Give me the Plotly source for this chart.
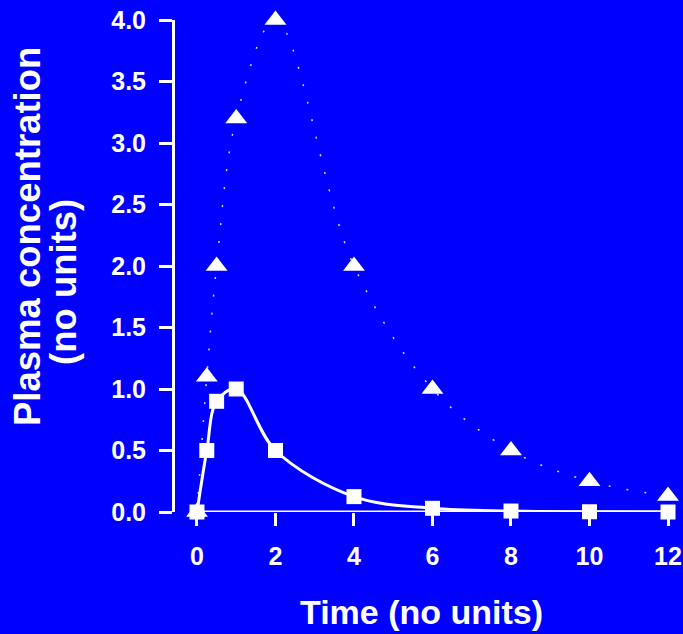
import plotly.graph_objects as go

# Data
time_sq = [0, 0.25, 0.5, 1, 2, 4, 6, 8, 10, 12]
conc_sq = [0, 0.5, 0.9, 1.0, 0.5, 0.125, 0.03, 0.008, 0.002, 0.0]
time_tri = [0, 0.25, 0.5, 1, 2, 4, 6, 8, 10, 12]
conc_tri = [0, 1.1, 2.0, 3.2, 4.0, 2.0, 1.0, 0.5, 0.25, 0.13]
x_ticks = [0, 2, 4, 6, 8, 10, 12]
y_ticks = [0.0, 0.5, 1.0, 1.5, 2.0, 2.5, 3.0, 3.5, 4.0]

BG = "#0000FF"
FONT = "Liberation Sans, Arial, sans-serif"

fig = go.Figure()

# Dotted curve through triangles
fig.add_trace(go.Scatter(
    x=time_tri, y=conc_tri, mode="lines",
    line=dict(color="rgba(255,255,255,0.85)", width=1.5, dash="2px,16px", shape="spline", smoothing=1.0),
    cliponaxis=False, showlegend=False, hoverinfo="skip"))
fig.add_trace(go.Scatter(
    x=time_tri, y=conc_tri, mode="markers",
    marker=dict(symbol="triangle-up", size=19, color="white", line=dict(width=0)),
    cliponaxis=False, showlegend=False))

# Solid curve through squares
fig.add_trace(go.Scatter(
    x=time_sq, y=conc_sq, mode="lines+markers",
    line=dict(color="white", width=3, shape="spline", smoothing=1.0),
    marker=dict(symbol="square", size=15, color="white", line=dict(width=0)),
    cliponaxis=False, showlegend=False))

# Detached x-axis baseline from first to last tick
fig.add_shape(type="line", xref="x", yref="y",
              x0=x_ticks[0], x1=x_ticks[-1], y0=0, y1=0,
              line=dict(color="white", width=3), layer="below")

fig.update_layout(
    width=683, height=634,
    paper_bgcolor=BG, plot_bgcolor=BG,
    margin=dict(l=175, r=15, t=20, b=122),
    font=dict(family=FONT, color="white", size=25),
    xaxis=dict(
        range=[-0.56, 12], tickvals=x_ticks, ticktext=[str(v) for v in x_ticks],
        showgrid=False, zeroline=False, showline=False, automargin=False,
        ticks="outside", ticklen=13, tickwidth=3, tickcolor="white",
        tickfont=dict(family=FONT, size=25, color="white", weight="bold"),
        ticklabelstandoff=9,
    ),
    yaxis=dict(
        range=[0, 4], tickvals=y_ticks, ticktext=[f"{v:.1f}" for v in y_ticks],
        showgrid=False, zeroline=False, showline=True, linecolor="white", linewidth=3,
        automargin=False,
        ticks="outside", ticklen=13, tickwidth=3, tickcolor="white",
        tickfont=dict(family=FONT, size=25, color="white", weight="bold"),
        ticklabelstandoff=8,
    ),
    annotations=[
        dict(text="<b>Time (no units)</b>", xref="paper", yref="paper",
             x=0.5, y=-0.203, xanchor="center", yanchor="middle", showarrow=False,
             font=dict(family=FONT, size=34, color="white")),
        dict(text="<b>Plasma concentration</b>", xref="paper", yref="paper",
             x=(27 - 175) / 493, y=(512 - 237) / 492, xanchor="center", yanchor="middle",
             textangle=-90, showarrow=False,
             font=dict(family=FONT, size=36.5, color="white")),
        dict(text="<b>(no units)</b>", xref="paper", yref="paper",
             x=(63 - 175) / 493, y=(512 - 282) / 492, xanchor="center", yanchor="middle",
             textangle=-90, showarrow=False,
             font=dict(family=FONT, size=36.5, color="white")),
    ],
)

fig.write_html(
    "out.html",
    config={"displayModeBar": False},
    post_script="document.body.style.margin='0';document.body.style.padding='0';"
                "document.body.style.background='#0000FF';",
)
